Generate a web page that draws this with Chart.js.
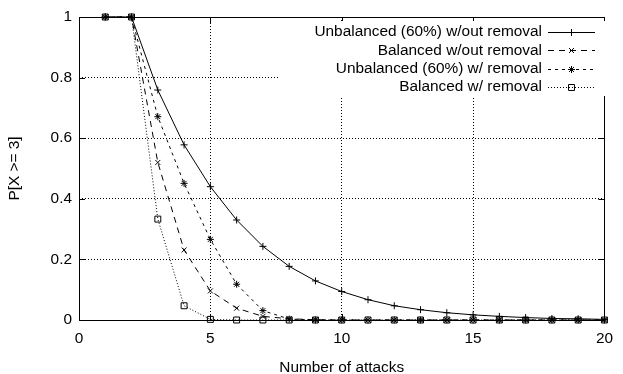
<!DOCTYPE html>
<html lang="en">
<head>
  <meta charset="UTF-8">
  <title>P[X >= 3] vs attacks</title>
  <script src="https://cdn.jsdelivr.net/npm/chart.js@4/dist/chart.umd.min.js"></script>
  <style>
    html, body { margin: 0; padding: 0; background: #fff; }
    #wrap { width: 623px; height: 374px; }
  </style>
</head>
<body>
  <div id="wrap"><canvas id="chart"></canvas></div>
  <script>
    const attacks = [1, 2, 3, 4, 5, 6, 7, 8, 9, 10, 11, 12, 13, 14, 15, 16, 17, 18, 19, 20];
    const unbalancedNoRemoval = [1, 1, 0.759, 0.578, 0.44, 0.33, 0.243, 0.177, 0.129, 0.094, 0.067, 0.047, 0.034, 0.024, 0.017, 0.012, 0.008, 0.005, 0.004, 0.002];
    const balancedNoRemoval   = [1, 1, 0.52, 0.231, 0.096, 0.039, 0.012, 0.004, 0.001, 0, 0, 0, 0, 0, 0, 0, 0, 0, 0, 0];
    const unbalancedRemoval   = [1, 1, 0.671, 0.451, 0.266, 0.118, 0.031, 0.003, 0, 0, 0, 0, 0, 0, 0, 0, 0, 0, 0, 0];
    const balancedRemoval     = [1, 1, 0.333, 0.047, 0.002, 0, 0, 0, 0, 0, 0, 0, 0, 0, 0, 0, 0, 0, 0, 0];
    const seriesNames = [
      'Unbalanced (60%) w/out removal',
      'Balanced w/out removal',
      'Unbalanced (60%) w/ removal',
      'Balanced w/ removal',
    ];
    const xTicks = [0, 5, 10, 15, 20];
    const yTicks = [0, 0.2, 0.4, 0.6, 0.8, 1];

    const FONT = 'Liberation Sans, Arial, Helvetica, sans-serif';
    const FSIZE = 15.4;
    const pts = ys => attacks.map((x, i) => ({ x, y: ys[i] }));

    function series(label, ys, dash, pointStyle, radius) {
      return {
        label, data: pts(ys),
        borderColor: '#000', borderWidth: 1, borderDash: dash,
        pointStyle, pointRadius: radius, pointBorderWidth: 1,
        pointBorderColor: '#000', pointBackgroundColor: 'rgba(0,0,0,0)',
        tension: 0, clip: false,
      };
    }

    // gnuplot-like frame: solid box with inward ticks on all four sides
    const framePlugin = {
      id: 'frame',
      afterDatasetsDraw(chart) {
        const { ctx, chartArea: a, scales: { x, y } } = chart;
        ctx.save();
        ctx.strokeStyle = '#000'; ctx.lineWidth = 1; ctx.setLineDash([]);
        ctx.beginPath();
        xTicks.forEach(v => {
          const px = Math.round(x.getPixelForValue(v)) + 0.5;
          ctx.moveTo(px, a.bottom); ctx.lineTo(px, a.bottom - 6);
          ctx.moveTo(px, a.top); ctx.lineTo(px, a.top + 6);
        });
        yTicks.forEach(v => {
          const py = Math.round(y.getPixelForValue(v)) + 0.5;
          ctx.moveTo(a.left, py); ctx.lineTo(a.left + 6, py);
          ctx.moveTo(a.right, py); ctx.lineTo(a.right - 6, py);
        });
        ctx.stroke();
        ctx.strokeRect(Math.round(a.left) + 0.5, Math.round(a.top) + 0.5,
          Math.round(a.right - a.left), Math.round(a.bottom - a.top));
        ctx.restore();
      },
    };

    // key in the top right corner, text right aligned, sample on the right
    const keyPlugin = {
      id: 'key',
      afterDatasetsDraw(chart) {
        const { ctx } = chart;
        ctx.save();
        ctx.fillStyle = '#fff';
        ctx.fillRect(279, 21, 327, 75);
        ctx.font = FSIZE + 'px ' + FONT;
        ctx.textAlign = 'right'; ctx.textBaseline = 'middle';
        chart.data.datasets.forEach((ds, i) => {
          const yy = 32 + i * 18.3;
          ctx.fillStyle = '#000';
          ctx.fillText(ds.label, 542, yy);
          ctx.strokeStyle = '#000'; ctx.lineWidth = 1;
          ctx.setLineDash(ds.borderDash);
          ctx.beginPath();
          ctx.moveTo(548, Math.round(yy) + 0.5); ctx.lineTo(595, Math.round(yy) + 0.5);
          ctx.stroke();
          ctx.setLineDash([]);
          ctx.fillStyle = 'rgba(0,0,0,0)';
          Chart.helpers.drawPoint(ctx, { pointStyle: ds.pointStyle, radius: ds.pointRadius, borderWidth: 1 }, 571.5, Math.round(yy) + 0.5);
        });
        ctx.restore();
      },
    };

    const gridColor = (vals) => c => vals.includes(c.tick.value) ? '#000' : 'rgba(0,0,0,0)';

    new Chart(document.getElementById('chart'), {
      type: 'line',
      data: {
        datasets: [
          series(seriesNames[0], unbalancedNoRemoval, [], 'cross', 3.5),
          series(seriesNames[1], balancedNoRemoval, [6, 5], 'crossRot', 3.5),
          series(seriesNames[2], unbalancedRemoval, [3, 4], 'star', 3.5),
          series(seriesNames[3], balancedRemoval, [1, 2], 'rect', 4.2),
        ],
      },
      options: {
        responsive: true, maintainAspectRatio: false, animation: false,
        layout: { padding: { top: 17, right: 11, left: 0, bottom: 0 } },
        plugins: { legend: { display: false }, tooltip: { enabled: false } },
        scales: {
          x: {
            type: 'linear', min: 0, max: 20,
            afterFit: s => { s.height = 54; },
            afterBuildTicks: s => { s.ticks = xTicks.map(value => ({ value })); },
            ticks: { color: '#000', font: { family: FONT, size: FSIZE }, padding: 10, maxRotation: 0, callback: v => String(v) },
            grid: { drawTicks: false, color: gridColor([5, 10, 15]), lineWidth: 1 },
            border: { display: false, dash: [1, 2] },
            title: { display: true, text: 'Number of attacks', color: '#000', font: { family: FONT, size: FSIZE }, padding: { top: 0, bottom: -3 } },
          },
          y: {
            type: 'linear', min: 0, max: 1,
            afterFit: s => { s.width = 79; },
            afterBuildTicks: s => { s.ticks = yTicks.map(value => ({ value })); },
            ticks: { color: '#000', font: { family: FONT, size: FSIZE }, padding: 7, callback: v => String(v) },
            grid: { drawTicks: false, color: gridColor([0.2, 0.4, 0.6, 0.8]), lineWidth: 1 },
            border: { display: false, dash: [1, 2] },
            title: { display: true, text: 'P[X >= 3]', color: '#000', font: { family: FONT, size: FSIZE }, padding: { top: 6, bottom: 0 } },
          },
        },
      },
      plugins: [framePlugin, keyPlugin],
    });
  </script>
</body>
</html>
